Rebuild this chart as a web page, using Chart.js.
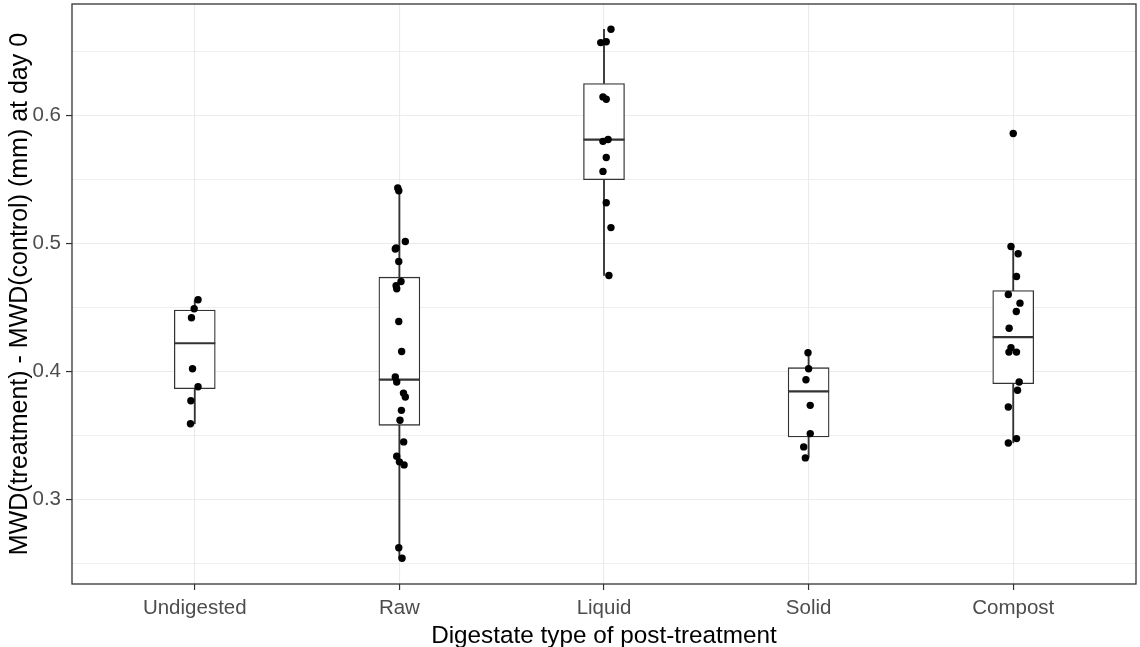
<!DOCTYPE html>
<html>
<head>
<meta charset="utf-8">
<script src="https://cdn.jsdelivr.net/npm/chart.js@4.4.1/dist/chart.umd.min.js"></script>
<style>
  html, body { margin: 0; padding: 0; background: #fff; }
  #wrap { width: 1140px; height: 647px; }
</style>
</head>
<body>
<div id="wrap"><canvas id="c" width="1140" height="647"></canvas></div>
<script>
// ── datos ────────────────────────────────────────────
const cats = ['Undigested', 'Raw', 'Liquid', 'Solid', 'Compost'];

const undigestedY   = [0.456, 0.449, 0.442, 0.402, 0.388, 0.377, 0.359];
const undigestedJit = [0.016, -0.003, -0.016, -0.011, 0.016, -0.019, -0.021];

const rawY   = [0.5435, 0.5414, 0.5016, 0.4966, 0.4958, 0.486, 0.4703, 0.467, 0.4646, 0.439, 0.4156, 0.3956,
                0.3917, 0.383, 0.380, 0.3695, 0.3617, 0.3448, 0.3336, 0.3292, 0.3268, 0.262, 0.2537];
const rawJit = [-0.008, -0.003, 0.029, -0.016, -0.02, -0.003, 0.008, -0.016, -0.013, -0.003, 0.011, -0.02,
                -0.013, 0.02, 0.029, 0.01, 0.003, 0.021, -0.013, 0, 0.023, -0.003, 0.013];

const liquidY   = [0.6677, 0.6573, 0.658, 0.6148, 0.613, 0.580, 0.5815, 0.5674, 0.5565, 0.532, 0.5125, 0.475];
const liquidJit = [0.034, -0.016, 0.011, -0.005, 0.011, -0.005, 0.02, 0.011, -0.005, 0.011, 0.034, 0.024];

const solidY   = [0.4146, 0.402, 0.3935, 0.3734, 0.3513, 0.3409, 0.3323];
const solidJit = [-0.003, 0, -0.013, 0.008, 0.008, -0.024, -0.016];

const compostY   = [0.5862, 0.4977, 0.492, 0.4742, 0.4602, 0.4534, 0.4469, 0.4338, 0.4185, 0.4151, 0.4151,
                    0.3917, 0.3852, 0.3721, 0.3474, 0.344];
const compostJit = [0, -0.011, 0.024, 0.016, -0.024, 0.033, 0.015, -0.02, -0.011, -0.021, 0.016,
                    0.029, 0.021, -0.024, 0.016, -0.024];

// estadísticos de las cajas
const boxQ1   = [0.3865, 0.3578, 0.550, 0.3487, 0.3904];
const boxMed  = [0.422, 0.3935, 0.5813, 0.3844, 0.4268];
const boxQ3   = [0.448, 0.4737, 0.6253, 0.4029, 0.4633];
const whiskLo = [0.359, 0.2537, 0.475, 0.3323, 0.344];
const whiskHi = [0.456, 0.5435, 0.6677, 0.4146, 0.4977];

// ticks del eje Y
const yMajorTicks = [0.3, 0.4, 0.5, 0.6];
const yMinorTicks = [0.25, 0.35, 0.45, 0.55, 0.65];

const xTitle = 'Digestate type of post-treatment';
const yTitle = 'MWD(treatment) - MWD(control) (mm) at day 0';

// ── armado de datasets ───────────────────────────────
const groupsY   = [undigestedY, rawY, liquidY, solidY, compostY];
const groupsJit = [undigestedJit, rawJit, liquidJit, solidJit, compostJit];

const pts = [];
groupsY.forEach((ys, g) => {
  ys.forEach((v, i) => pts.push({x: g + 1 + groupsJit[g][i], y: v}));
});

const DARK = '#333333';
const GRID = '#ebebeb';
const FONT = "'Liberation Sans', Arial, sans-serif";

const isMajor = v => yMajorTicks.some(t => Math.abs(t - v) < 1e-6);

// sin padding extra por las etiquetas extremas
const noPad = s => { s.paddingTop = 0; s.paddingBottom = 0; s.paddingLeft = 0; s.paddingRight = 0; };

// mediana + borde del panel
const boxExtras = {
  id: 'boxExtras',
  afterDatasetDraw(chart, args) {
    if (args.index !== 2) return;
    const {ctx, scales: {x, y}} = chart;
    ctx.save();
    ctx.strokeStyle = DARK;
    ctx.lineWidth = 2.2;
    boxMed.forEach((m, i) => {
      const px = x.getPixelForValue(i + 1);
      const py = y.getPixelForValue(m);
      ctx.beginPath();
      ctx.moveTo(px - 20.5, py);
      ctx.lineTo(px + 20.5, py);
      ctx.stroke();
    });
    ctx.restore();
  },
  afterDraw(chart) {
    const {ctx, chartArea: a} = chart;
    ctx.save();
    ctx.strokeStyle = DARK;
    ctx.lineWidth = 1.3;
    ctx.strokeRect(a.left, a.top, a.right - a.left, a.bottom - a.top);
    ctx.restore();
  },
};

new Chart(document.getElementById('c'), {
  type: 'bar',
  data: {
    datasets: [
      {
        type: 'scatter',
        data: pts,
        pointRadius: 3.7,
        pointBorderWidth: 0,
        pointBackgroundColor: '#000',
        order: 0,
      },
      {
        // bigote superior
        data: cats.map((_, i) => ({x: i + 1, y: [boxQ3[i], whiskHi[i]]})),
        backgroundColor: DARK,
        borderWidth: 0,
        barThickness: 1.2,
        grouped: false,
        order: 2,
      },
      {
        // caja
        data: cats.map((_, i) => ({x: i + 1, y: [boxQ1[i], boxQ3[i]]})),
        backgroundColor: '#ffffff',
        borderColor: DARK,
        borderWidth: 1.3,
        borderSkipped: false,
        barThickness: 41,
        grouped: false,
        order: 1,
      },
      {
        // bigote inferior
        data: cats.map((_, i) => ({x: i + 1, y: [whiskLo[i], boxQ1[i]]})),
        backgroundColor: DARK,
        borderWidth: 0,
        barThickness: 1.2,
        grouped: false,
        order: 2,
      },
    ],
  },
  options: {
    responsive: false,
    animation: false,
    layout: {padding: {left: 0, top: 3, right: 2, bottom: 0}},
    plugins: {
      legend: {display: false},
      tooltip: {enabled: false},
    },
    scales: {
      x: {
        type: 'linear',
        offset: false,
        min: 0.4,
        max: 5.6,
        afterBuildTicks: s => { s.ticks = cats.map((_, i) => ({value: i + 1})); },
        afterFit: s => { s.height = 63; noPad(s); },
        ticks: {
          autoSkip: false,
          maxRotation: 0,
          padding: 6,
          color: '#4d4d4d',
          font: {family: FONT, size: 20.5},
          callback: v => cats[Math.round(v) - 1],
        },
        grid: {offset: false, color: GRID, lineWidth: 1.1, tickColor: DARK, tickLength: 6, tickWidth: 1.2},
        border: {display: false},
        title: {
          display: true,
          text: xTitle,
          color: '#000',
          font: {family: FONT, size: 24.3, lineHeight: 0.9},
          padding: {top: 0, bottom: 0},
        },
      },
      y: {
        min: 0.2336,
        max: 0.6875,
        afterBuildTicks: s => {
          s.ticks = [...yMinorTicks, ...yMajorTicks].sort((a, b) => a - b).map(v => ({value: v}));
        },
        afterFit: s => { s.width = 72; noPad(s); },
        ticks: {
          padding: 5,
          color: '#4d4d4d',
          font: {family: FONT, size: 20.5},
          callback: v => isMajor(v) ? v.toFixed(1) : '',
        },
        grid: {
          color: GRID,
          lineWidth: c => isMajor(c.tick.value) ? 1.1 : 0.8,
          tickColor: c => isMajor(c.tick.value) ? DARK : 'rgba(0,0,0,0)',
          tickLength: 6,
          tickWidth: 1.2,
        },
        border: {display: false},
        title: {
          display: true,
          text: yTitle,
          color: '#000',
          font: {family: FONT, size: 25, lineHeight: 1.1},
          padding: {top: 6, bottom: 0},
        },
      },
    },
  },
  plugins: [boxExtras],
});
</script>
</body>
</html>
